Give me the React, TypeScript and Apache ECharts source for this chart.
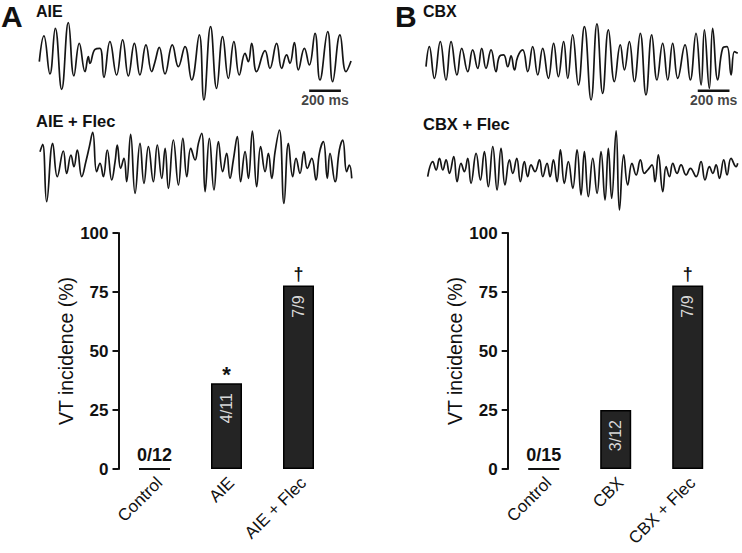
import React, { useEffect, useRef } from "react";
import * as echarts from "echarts";

const FONT = "'Liberation Sans', Arial, Helvetica, sans-serif";

// ---- bar chart data ----
const categoriesA = ["Control", "AIE", "AIE + Flec"];
const vtCountsA = [0, 4, 7];
const totalsA = [12, 11, 9];
const markersA = ["", "*", "†"];

const categoriesB = ["Control", "CBX", "CBX + Flec"];
const vtCountsB = [0, 3, 7];
const totalsB = [15, 12, 9];
const markersB = ["", "", "†"];

const yTickValues = [0, 25, 50, 75, 100];

// ---- ECG traces: [time (ms), amplitude (a.u.)] ----
const traceAIE: number[][] = [
  [0, 5], [29, 82], [67, -32], [101, 105], [141, -78], [183, 122], [218, -38], [252, 60],
  [288, -25], [309, 20], [319, 0], [351, 42], [382, 45], [407, -42], [445, 65], [487, -35],
  [525, 70], [561, -38], [599, 60], [634, -35], [672, 55], [708, -25], [729, 5], [756, 48],
  [792, -32], [838, 55], [876, -10], [918, 50], [960, -50], [1008, 85], [1037, -110],
  [1079, 110], [1117, -75], [1155, 80], [1191, -45], [1226, 65], [1260, -35], [1296, 30],
  [1317, 5], [1338, 60], [1369, -25], [1422, 38], [1453, -15], [1495, 60], [1527, -15],
  [1558, 25], [1579, 0], [1607, 62], [1632, -20], [1670, 45], [1701, -5], [1737, 90],
  [1768, -50], [1817, 95], [1848, -55], [1894, 85], [1932, -25], [1964, 7],
];

const traceAIEFlec: number[][] = [
  [0, 40], [17, 62], [42, -110], [80, 65], [109, -35], [147, 42], [168, -25], [195, 30],
  [214, -5], [235, 45], [263, -35], [290, 12], [311, 55], [332, 98], [357, -20], [378, 5],
  [399, -35], [424, 45], [452, -45], [473, 10], [487, 60], [508, -10], [529, 20], [546, -50],
  [571, 92], [599, -85], [630, 65], [655, -55], [683, 55], [714, -50], [739, 60], [767, -40],
  [788, 50], [809, -70], [840, 75], [872, -60], [900, 80], [925, -35], [950, 50], [977, 15],
  [998, 65], [1019, 95], [1040, -80], [1067, 80], [1096, -75], [1124, 70], [1151, -20],
  [1176, 35], [1197, -40], [1218, 15], [1243, 85], [1264, -50], [1292, 40], [1313, -40],
  [1338, 102], [1365, -65], [1390, 55], [1418, -20], [1439, 35], [1460, -40], [1481, 40],
  [1508, 105], [1537, -115], [1565, 65], [1592, -35], [1613, 20], [1638, -25], [1663, 40],
  [1684, -10], [1712, 20], [1739, -45], [1760, 35], [1785, 70], [1810, -40], [1827, 35],
  [1859, -50], [1886, 45], [1907, 75], [1932, -20], [1949, 0], [1964, -40],
];

const traceCBX: number[][] = [
  [0, -10], [21, 50], [53, -45], [90, 65], [126, -50], [158, 65], [195, -35], [225, 45],
  [263, -25], [294, 40], [326, -15], [351, 45], [378, -15], [410, 40], [441, -25], [462, 20],
  [489, 25], [515, -10], [536, 22], [557, -20], [578, 20], [609, 40], [641, -25], [672, 50],
  [704, -35], [735, 45], [771, -45], [804, 60], [834, -40], [867, 65], [893, -45], [924, 85],
  [960, -65], [998, 110], [1040, -110], [1077, 118], [1113, -90], [1149, 100], [1187, -55],
  [1224, 55], [1250, -20], [1281, 65], [1313, -55], [1350, 90], [1386, -95], [1422, 85],
  [1455, -50], [1491, 60], [1523, -50], [1554, 60], [1586, -45], [1632, 55], [1665, -50],
  [1701, 90], [1733, -65], [1754, 100], [1785, -75], [1806, 105], [1838, -50], [1869, 45],
  [1896, 50], [1922, -35], [1943, 35], [1964, 30],
];

const traceCBXFlec: number[][] = [
  [0, -25], [32, 20], [53, -5], [74, 30], [95, -5], [116, 25], [137, -15], [164, 35],
  [185, -40], [210, 15], [231, -10], [252, 30], [273, -45], [305, 45], [332, -35], [357, 50],
  [382, -55], [410, 65], [437, -65], [462, 60], [487, -50], [515, 25], [536, -15], [561, 30],
  [584, -40], [609, 20], [630, -25], [651, 10], [676, -10], [704, 25], [725, -25], [752, 15],
  [771, -25], [792, 25], [815, -40], [836, 55], [861, -45], [886, 20], [914, -60], [941, 55],
  [966, -80], [987, 50], [1012, -85], [1040, 30], [1067, -75], [1092, 50], [1117, -95],
  [1138, 60], [1159, -90], [1187, 112], [1208, -125], [1235, 40], [1260, -50], [1287, 15],
  [1313, -20], [1340, 25], [1365, -15], [1386, -5], [1413, 10], [1432, -40], [1453, 40],
  [1481, -70], [1502, 5], [1523, -25], [1544, 15], [1571, -15], [1596, 10], [1628, -20],
  [1655, 0], [1691, -25], [1722, 20], [1747, -35], [1775, 5], [1796, -15], [1817, 10],
  [1838, -30], [1865, 25], [1886, -20], [1911, 30], [1943, 5], [1953, 15],
];

const scaleBarMs = 200;
const scaleBarStartA = 1700;
const scaleBarStartB = 1712;
const scaleBarLevel = -82;

const TRACE_MS = 2000;
const TRACE_UNITS = 150;

function traceGrid(left: number, top: number) {
  return {
    left,
    top,
    width: TRACE_MS / 6.3,
    height: (2 * TRACE_UNITS) / 3,
    outerBoundsMode: "none",
  };
}

function barGrid(left: number) {
  return { left, top: 233, width: 216, height: 236, outerBoundsMode: "none" };
}

export default function App() {
  const ref = useRef<HTMLDivElement>(null);

  useEffect(() => {
    document.body.style.margin = "0";
    if (!ref.current) return;
    const chart = echarts.init(ref.current, undefined, { renderer: "svg" });

    const grids = [
      traceGrid(39.3, 13.3),
      traceGrid(40, 115),
      traceGrid(426, 13.3),
      traceGrid(427.7, 118.3),
      barGrid(118.5),
      barGrid(507.7),
    ];

    const xAxes: any[] = [];
    const yAxes: any[] = [];
    for (let i = 0; i < 4; i++) {
      xAxes.push({ gridIndex: i, type: "value", min: 0, max: TRACE_MS, show: false });
      yAxes.push({ gridIndex: i, type: "value", min: -TRACE_UNITS, max: TRACE_UNITS, show: false });
    }

    const barX = (i: number, cats: string[]) => ({
      gridIndex: i,
      type: "category",
      data: cats,
      axisLine: { show: false },
      axisTick: { show: false },
      axisLabel: {
        rotate: 45,
        margin: 16,
        padding: [0, -7, 0, 0],
        fontFamily: FONT,
        fontSize: 17,
        color: "#111",
        interval: 0,
      },
    });
    const barY = (i: number, gap: number) => ({
      gridIndex: i,
      type: "value",
      min: yTickValues[0],
      max: yTickValues[yTickValues.length - 1],
      interval: yTickValues[1] - yTickValues[0],
      name: "VT incidence (%)",
      nameLocation: "middle",
      nameGap: gap,
      nameTextStyle: { fontFamily: FONT, fontSize: 19.5, color: "#111" },
      axisLine: { show: true, lineStyle: { color: "#111", width: 2 } },
      axisTick: { show: true, length: 6, lineStyle: { color: "#111", width: 2 } },
      axisLabel: { fontFamily: FONT, fontSize: 17, fontWeight: "bold", color: "#111", margin: 10 },
      splitLine: { show: false },
    });
    xAxes.push(barX(4, categoriesA), barX(5, categoriesB));
    yAxes.push(barY(4, 40), barY(5, 41));

    const traceSeries = (idx: number, data: number[][]) => ({
      type: "line",
      xAxisIndex: idx,
      yAxisIndex: idx,
      data,
      showSymbol: false,
      symbol: "none",
      smooth: 0.45,
      lineStyle: { color: "#151515", width: 1.7 },
      silent: true,
    });

    const scaleBar = (idx: number, start: number) => [
      {
        type: "line",
        xAxisIndex: idx,
        yAxisIndex: idx,
        data: [
          [start, scaleBarLevel],
          [start + scaleBarMs, scaleBarLevel],
        ],
        symbol: "none",
        lineStyle: { color: "#111", width: 2.5 },
        silent: true,
      },
      {
        type: "scatter",
        xAxisIndex: idx,
        yAxisIndex: idx,
        data: [[start + scaleBarMs / 2, scaleBarLevel]],
        symbolSize: 0,
        label: {
          show: true,
          position: "bottom",
          distance: 2,
          formatter: `${scaleBarMs} ms`,
          fontFamily: FONT,
          fontSize: 14,
          fontWeight: "bold",
          color: "#111",
        },
        silent: true,
      },
    ];

    const barSeries = (idx: number, counts: number[], totals: number[], markers: string[]) => {
      const pct = counts.map((c, i) => (c / totals[i]) * 100);
      const frac = counts.map((c, i) => `${c}/${totals[i]}`);
      return [
        {
          type: "bar",
          xAxisIndex: idx,
          yAxisIndex: idx,
          data: pct.map((v, i) => ({
            value: v,
            itemStyle: counts[i] > 0 ? {} : { borderWidth: 2, borderColor: "#111" },
          })),
          barWidth: 31,
          itemStyle: { color: "#242424", borderColor: "#000", borderWidth: 1.5 },
          label: {
            show: true,
            position: "insideTop",
            rotate: 90,
            align: "right",
            verticalAlign: "middle",
            distance: 10,
            fontFamily: FONT,
            fontSize: 16,
            color: "#d8d8d8",
            formatter: (p: any) => (counts[p.dataIndex] > 0 ? frac[p.dataIndex] : ""),
          },
          silent: true,
        },
        {
          type: "bar",
          xAxisIndex: idx,
          yAxisIndex: idx,
          data: pct.map((v, i) => ({
            value: v,
            label:
              counts[i] > 0
                ? { distance: markers[i] === "*" ? -2 : 2, fontSize: markers[i] === "*" ? 22 : 18 }
                : { distance: 5, fontSize: 18 },
          })),
          barWidth: 31,
          barGap: "-100%",
          itemStyle: { color: "rgba(0,0,0,0)" },
          label: {
            show: true,
            position: "top",
            fontFamily: FONT,
            fontWeight: "bold",
            color: "#111",
            formatter: (p: any) => (counts[p.dataIndex] > 0 ? markers[p.dataIndex] : frac[p.dataIndex]),
          },
          silent: true,
        },
      ];
    };

    const txt = (text: string, x: number, y: number, size: number) => ({
      type: "text",
      x,
      y,
      silent: true,
      style: {
        text,
        fontFamily: FONT,
        fontSize: size,
        fontWeight: "bold",
        fill: "#111",
        verticalAlign: "middle",
        align: "left",
      },
    });

    chart.setOption({
      animation: false,
      backgroundColor: "#fff",
      grid: grids,
      xAxis: xAxes,
      yAxis: yAxes,
      series: [
        traceSeries(0, traceAIE),
        traceSeries(1, traceAIEFlec),
        traceSeries(2, traceCBX),
        traceSeries(3, traceCBXFlec),
        ...scaleBar(0, scaleBarStartA),
        ...scaleBar(2, scaleBarStartB),
        ...barSeries(4, vtCountsA, totalsA, markersA),
        ...barSeries(5, vtCountsB, totalsB, markersB),
      ],
      graphic: [
        txt("A", 1, 16.5, 30),
        txt("AIE", 36, 11.5, 16),
        txt("AIE + Flec", 36, 120.5, 16.5),
        txt("B", 395, 16.5, 30),
        txt("CBX", 423, 11.5, 16),
        txt("CBX + Flec", 423, 123.5, 16.5),
      ],
    });

    return () => chart.dispose();
  }, []);

  return (
    <div
      ref={ref}
      style={{ position: "absolute", left: 0, top: 0, width: 742, height: 553 }}
    />
  );
}
